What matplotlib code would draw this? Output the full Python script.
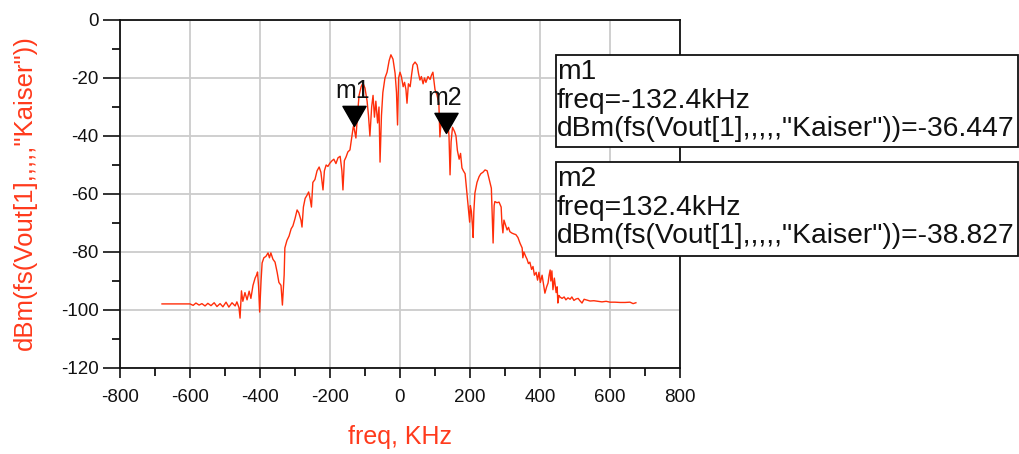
import numpy as np
import matplotlib
matplotlib.use("Agg")
import matplotlib.pyplot as plt
from matplotlib.path import Path
from matplotlib.patches import Rectangle

plt.rcParams["font.family"] = ["Liberation Sans", "DejaVu Sans"]
plt.rcParams["axes.unicode_minus"] = False

# spectrum: frequency (kHz) and level (dBm)
freq_khz = [
    -680, -643, -600, -591, -583, -574, -566, -557, -549, -540, -531, -523,
    -514, -506, -497, -489, -480, -471, -466, -460, -457, -453, -449, -443,
    -437, -431, -426, -420, -414, -410, -407, -404, -401, -397, -394, -389,
    -383, -377, -373, -369, -363, -357, -351, -346, -340, -336, -331, -329,
    -323, -317, -311, -306, -300, -294, -289, -283, -280, -276, -271, -266,
    -261, -257, -253, -249, -243, -237, -231, -226, -220, -216, -211, -206,
    -200, -194, -189, -183, -177, -171, -166, -163, -159, -154, -149, -143,
    -139, -134, -132.4, -126, -121, -117, -111, -106, -100, -94, -90, -86,
    -81, -77, -73, -69, -64, -60, -57, -53, -49, -43, -37, -31, -26, -20,
    -14, -10, -7, -4, 0, 4, 9, 13, 17, 20, 24, 29, 33, 37, 43, 49, 53, 57,
    61, 66, 70, 74, 80, 86, 90, 94, 100, 106, 111, 114, 119, 123, 127,
    132.4, 137, 140, 143, 146, 150, 156, 160, 164, 169, 173, 177, 181, 186,
    190, 193, 196, 199, 201, 204, 207, 209, 211, 214, 220, 226, 231, 237,
    243, 249, 253, 257, 261, 264, 266, 269, 271, 277, 283, 289, 291, 294,
    297, 301, 306, 310, 314, 320, 326, 331, 337, 343, 349, 351, 354, 359,
    363, 367, 371, 376, 380, 384, 389, 393, 397, 401, 406, 410, 414, 419,
    423, 426, 429, 431, 434, 437, 441, 446, 449, 451, 454, 457, 463, 469,
    474, 480, 486, 491, 497, 503, 509, 514, 520, 526, 534, 543, 554, 566,
    577, 589, 600, 614, 629, 643, 657, 666, 674,
]
level_dbm = [
    -97.9, -97.9, -97.9, -98.4, -97.6, -98.3, -97.8, -98.6, -97.7, -98.5, -97.5, -98.8,
    -97.8, -98.9, -97.3, -99.0, -97.5, -98.6, -97.2, -99.2, -102.8, -93.4, -97.0, -94.0,
    -96.5, -93.5, -96.0, -91.5, -89.0, -88.0, -86.9, -92.0, -100.7, -90.0, -83.8, -82.0,
    -81.5, -80.3, -82.0, -80.3, -82.5, -83.5, -87.0, -90.5, -91.5, -98.3, -88.0, -78.6,
    -76.0, -74.5, -72.0, -71.0, -68.5, -65.5, -66.5, -69.0, -71.4, -64.5, -61.5, -60.5,
    -59.3, -61.5, -64.5, -56.0, -55.0, -52.0, -50.7, -52.5, -58.6, -52.0, -50.0, -50.5,
    -49.3, -48.5, -48.0, -49.5, -47.5, -47.0, -52.0, -58.6, -48.5, -47.2, -45.5, -44.8,
    -41.4, -37.2, -36.447, -40.7, -32.0, -26.0, -23.0, -21.7, -23.5, -28.0, -33.0, -40.0,
    -30.0, -26.0, -33.5, -28.0, -35.5, -30.0, -49.0, -33.0, -25.0, -20.0, -18.0, -14.0, -12.0, -13.5,
    -18.4, -25.0, -36.2, -20.0, -18.0, -19.5, -23.0, -21.5, -24.0, -28.7, -22.0, -23.0, -19.0, -15.5, -14.5, -15.5, -18.5, -20.7,
    -19.5, -22.0, -20.0, -21.5, -19.5, -20.5, -19.0, -18.0, -24.0, -26.0, -28.7, -40.3, -33.0, -34.5, -38.0,
    -38.827, -35.5, -40.0, -53.4, -42.0, -37.0, -38.5, -40.0, -45.0, -48.0, -46.0, -51.0, -52.0, -53.0,
    -58.0, -62.0, -66.0, -69.7, -64.0, -66.0, -71.0, -75.0, -66.0, -59.7, -56.0, -54.0, -53.0, -52.5,
    -51.7, -52.0, -54.0, -56.0, -58.0, -69.0, -76.9, -64.0, -62.6, -63.0, -62.8, -64.5, -69.7, -73.4,
    -69.0, -70.5, -72.4, -71.5, -73.0, -73.5, -73.8, -74.0, -75.0, -77.0, -78.6, -82.0, -80.0, -81.5,
    -82.5, -84.0, -83.5, -86.0, -85.0, -88.0, -87.0, -89.7, -87.0, -90.5, -88.0, -91.0, -94.2, -92.0,
    -90.7, -88.0, -86.2, -90.0, -86.5, -93.0, -89.0, -94.0, -92.0, -97.6, -95.0, -95.5, -96.0, -95.5,
    -96.5, -95.8, -96.3, -95.5, -96.7, -96.2, -96.0, -96.8, -97.6, -96.3, -96.6, -96.9, -96.8, -97.0,
    -97.2, -97.0, -97.3, -97.3, -97.4, -97.4, -97.3, -97.8, -97.5,
]

# markers
marker_names = ["m1", "m2"]
marker_freq = [-132.4, 132.4]
marker_level = [-36.447, -38.827]
marker_freq_text = ["-132.4kHz", "132.4kHz"]
trace_name = 'dBm(fs(Vout[1],,,,,"Kaiser"))'

xticks = [-800, -600, -400, -200, 0, 200, 400, 600, 800]
yticks = [0, -20, -40, -60, -80, -100, -120]

RED = "#ff2e0a"
LABEL_RED = "#ff3a1c"
W, H = 1020, 454


def fx(px):
    return px / W


def fy(py):
    return 1 - py / H


fig = plt.figure(figsize=(W / 100, H / 100), dpi=100)
ax = fig.add_axes([fx(120), fy(368), fx(680) - fx(120), fy(20) - fy(368)])

ax.plot(freq_khz, level_dbm, color=RED, lw=1.0, zorder=3)

# down-pointing triangle with its tip on the data point
tri = Path([(-1.15, 2.0), (1.15, 2.0), (0, 0), (-1.15, 2.0)],
           [Path.MOVETO, Path.LINETO, Path.LINETO, Path.CLOSEPOLY])
ax.plot(marker_freq, marker_level, linestyle="none", marker=tri,
        markersize=29, color="black", zorder=4)
for name, f, v in zip(marker_names, marker_freq, marker_level):
    ax.annotate(name, (f, v), xytext=(-1, 20), textcoords="offset points",
                ha="center", va="baseline", fontsize=18, color="#111111",
                zorder=5)

ax.set_xlim(-800, 800)
ax.set_ylim(-120, 0)
ax.set_xticks(xticks)
ax.set_yticks(yticks)
ax.set_xticks([-700, -500, -300, -100, 100, 300, 500, 700], minor=True)
ax.set_yticks([-10, -30, -50, -70, -90, -110], minor=True)
ax.grid(True, which="major", color="#cccccc", lw=1.3)
ax.set_axisbelow(True)

ax.tick_params(axis="x", which="major", length=7, width=1.2, pad=8,
               labelsize=13.5, colors="#111111")
ax.tick_params(axis="x", which="minor", length=6, width=1.2)
ax.tick_params(axis="y", which="major", length=12.5, width=1.2, pad=3,
               labelsize=13.5, colors="#111111")
ax.tick_params(axis="y", which="minor", length=6, width=1.2)
for s in ax.spines.values():
    s.set_linewidth(1.3)
    s.set_color("#111111")

ax.set_xlabel("freq, KHz", fontsize=18, color=LABEL_RED, va="center")
ax.xaxis.set_label_coords(0.5, -0.197)
ax.set_ylabel(trace_name, fontsize=18.5, color=LABEL_RED, va="center")
ax.yaxis.set_label_coords(-0.17, 0.505)

# marker readout boxes
boxes = [(55, 147), (162, 256)]
for i, (top, bottom) in enumerate(boxes):
    rect = Rectangle((fx(556), fy(bottom)), fx(1018) - fx(556), fy(top) - fy(bottom),
                     transform=fig.transFigure, facecolor="white",
                     edgecolor="#111111", lw=1.3, zorder=10)
    fig.add_artist(rect)
    lines = [marker_names[i],
             "freq=" + marker_freq_text[i],
             "%s=%.3f" % (trace_name, marker_level[i])]
    for j, txt in enumerate(lines):
        fig.text(fx(557), fy(top + 17 + 28.5 * j), txt, fontsize=20.3,
                 ha="left", va="center", color="#111111", zorder=11)

fig.savefig("out.png", dpi=100)
